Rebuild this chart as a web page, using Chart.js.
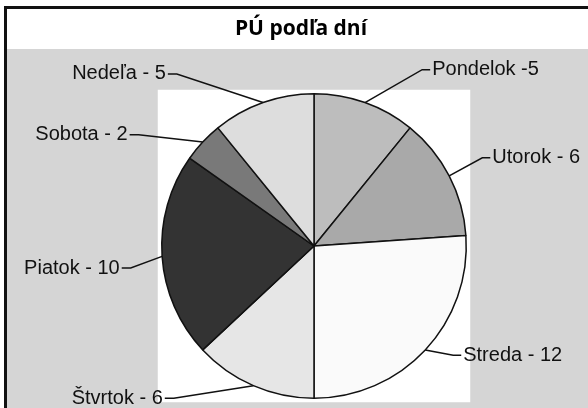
<!DOCTYPE html>
<html>
<head>
<meta charset="utf-8">
<script src="https://cdn.jsdelivr.net/npm/chart.js@4/dist/chart.umd.min.js"></script>
<style>
  html, body { margin: 0; padding: 0; background: #fff; }
  #wrap { width: 588px; height: 408px; position: relative; }
</style>
</head>
<body>
<div id="wrap"><canvas id="pie" width="588" height="408"></canvas></div>
<script>
const days = ["Pondelok", "Utorok", "Streda", "Štvrtok", "Piatok", "Sobota", "Nedeľa"];
const counts = [5, 6, 12, 6, 10, 2, 5];
const labelSep = [" -", " - ", " - ", " - ", " - ", " - ", " - "];
const titleText = "PÚ podľa dní";

const sliceColors = ["#bdbdbd", "#a9a9a9", "#fafafa", "#e6e6e6", "#333333", "#797979", "#dddddd"];

// where each label's leader line ends, in pie radii from the centre
const labelEnds = [
  [0.763, -1.158], [1.158, -0.579], [0.967, 0.717], [-0.98, 1.0],
  [-1.263, 0.145], [-1.211, -0.73], [-0.96, -1.13]
];

const framePlugin = {
  id: "frame",
  beforeDraw(chart) {
    const ctx = chart.ctx;
    const arc = chart.getDatasetMeta(0).data[0];
    ctx.save();
    ctx.fillStyle = "#ffffff";
    ctx.fillRect(0, 0, chart.width, chart.height);
    ctx.fillStyle = "#d5d5d5";
    ctx.fillRect(7, 49, chart.width - 7, chart.height - 49);
    ctx.fillStyle = "#111";
    ctx.fillRect(4, 6, chart.width - 4, 3);
    ctx.fillRect(4, 6, 3, chart.height - 6);

    if (arc) {
      const r = arc.outerRadius + 4;
      ctx.fillStyle = "#ffffff";
      ctx.fillRect(arc.x - r, arc.y - r, r * 2, r * 2);
    }

    ctx.fillStyle = "#000";
    ctx.font = "bold 21px 'Open Sans'";
    ctx.textAlign = "center";
    ctx.textBaseline = "middle";
    ctx.fillText(titleText, 301, 29);
    ctx.restore();
  },
  afterDraw(chart) {
    const ctx = chart.ctx;
    const arcs = chart.getDatasetMeta(0).data;
    ctx.save();
    ctx.strokeStyle = "#111";
    ctx.lineWidth = 1.5;
    ctx.fillStyle = "#111";
    ctx.font = "20px 'Liberation Sans'";
    ctx.textBaseline = "middle";
    arcs.forEach((a, i) => {
      const mid = (a.startAngle + a.endAngle) / 2;
      const ax = a.x + Math.cos(mid) * a.outerRadius;
      const ay = a.y + Math.sin(mid) * a.outerRadius;
      const ex = a.x + labelEnds[i][0] * a.outerRadius;
      const ey = a.y + labelEnds[i][1] * a.outerRadius;
      const right = ex > a.x;
      const elbow = right ? ex - 8 : ex + 9;
      ctx.beginPath();
      ctx.moveTo(ax, ay);
      ctx.lineTo(elbow, ey);
      ctx.lineTo(ex, ey);
      ctx.stroke();
      ctx.textAlign = right ? "left" : "right";
      ctx.fillText(days[i] + labelSep[i] + counts[i], right ? ex + 2 : ex - 2, ey);
    });
    ctx.restore();
  }
};

new Chart(document.getElementById("pie"), {
  type: "pie",
  data: {
    labels: days,
    datasets: [{
      data: counts,
      backgroundColor: sliceColors,
      borderColor: "#111",
      borderWidth: 1.5
    }]
  },
  options: {
    responsive: false,
    animation: false,
    events: [],
    layout: { padding: { left: 161, right: 121, top: 93, bottom: 9 } },
    plugins: {
      legend: { display: false },
      tooltip: { enabled: false },
      title: { display: false }
    }
  },
  plugins: [framePlugin]
});
</script>
</body>
</html>
